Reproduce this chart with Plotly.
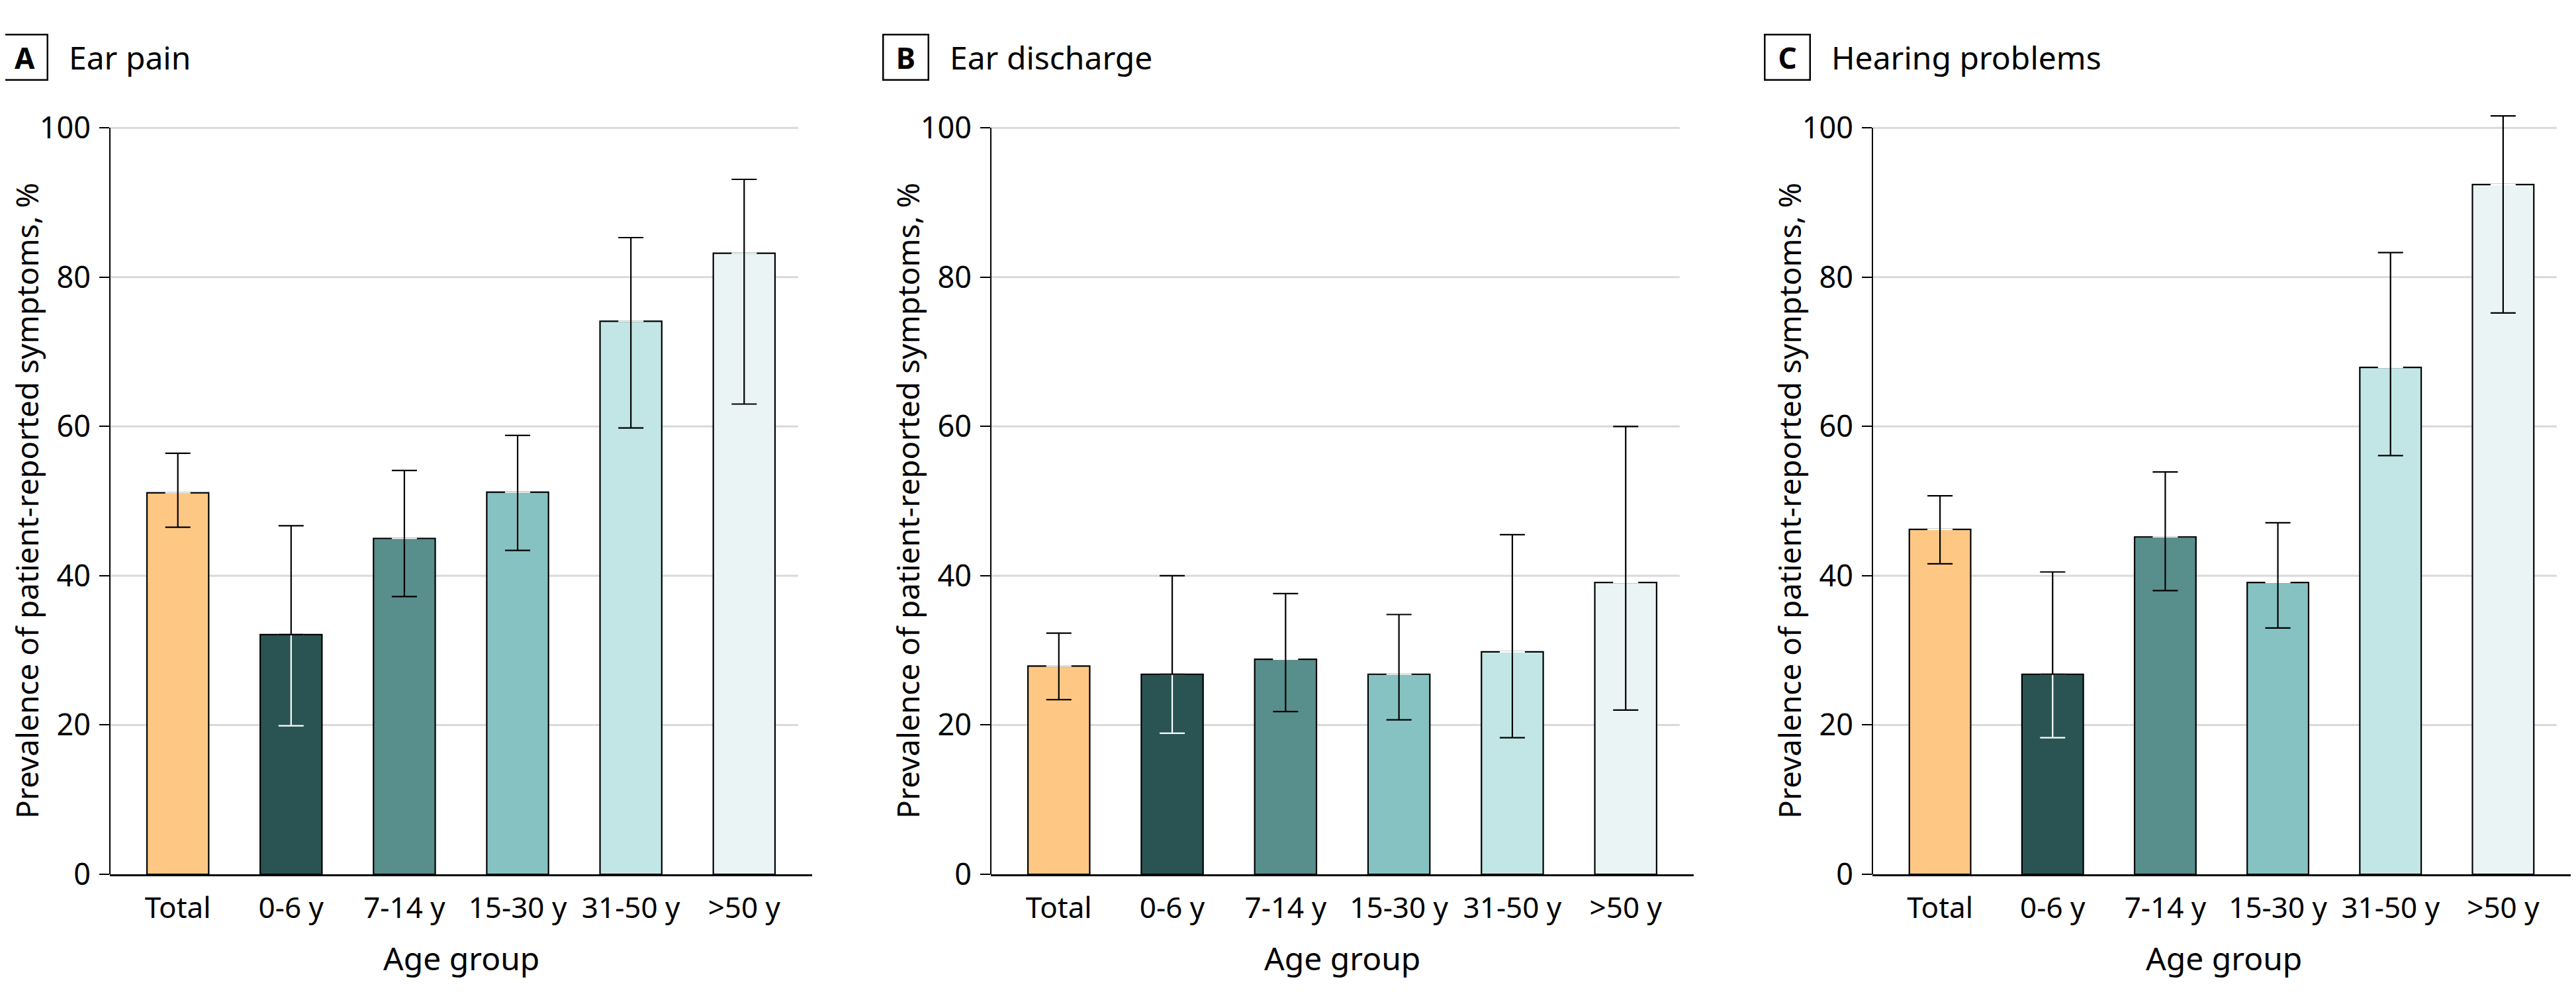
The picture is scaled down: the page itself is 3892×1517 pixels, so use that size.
import plotly.graph_objects as go

# Data
age_groups = ["Total", "0-6 y", "7-14 y", "15-30 y", "31-50 y", ">50 y"]
bar_colors = ["#FEC884", "#2A5454", "#588E8C", "#86C2C1", "#C1E6E5", "#EAF4F4"]

panel_letters = ["A", "B", "C"]
panel_titles = ["Ear pain", "Ear discharge", "Hearing problems"]

ear_pain = [51.1, 32.1, 45.0, 51.2, 74.1, 83.2]
ear_pain_hi = [56.4, 46.7, 54.1, 58.8, 85.3, 93.1]
ear_pain_lo = [46.5, 19.9, 37.2, 43.4, 59.8, 63.0]

ear_discharge = [27.9, 26.8, 28.8, 26.8, 29.8, 39.1]
ear_discharge_hi = [32.3, 40.0, 37.6, 34.8, 45.5, 60.0]
ear_discharge_lo = [23.4, 18.9, 21.8, 20.7, 18.3, 22.0]

hearing = [46.2, 26.8, 45.2, 39.1, 67.9, 92.4]
hearing_hi = [50.7, 40.5, 53.9, 47.1, 83.3, 101.6]
hearing_lo = [41.6, 18.3, 38.0, 33.0, 56.1, 75.2]

y_ticks = [0, 20, 40, 60, 80, 100]

values = [ear_pain, ear_discharge, hearing]
highs = [ear_pain_hi, ear_discharge_hi, hearing_hi]
lows = [ear_pain_lo, ear_discharge_lo, hearing_lo]

# target page is 3892x1517; the html body adds an 8px margin all round
W, H = 3892, 1517
OFF = 8
FW, FH = W - 2 * OFF, H - 2 * OFF
PLOT_TOP, PLOT_BOTTOM = 165, 1321   # page px rows of the plot area
TOP = PLOT_TOP - OFF
BOTTOM = FH - (PLOT_BOTTOM - OFF)
PLOT_H = PLOT_BOTTOM - PLOT_TOP
# plot area left / right edges (page px) for each panel
panel_px = [(166, 1227), (1497, 2559), (2829, 3891)]

FONT = "Noto Sans, Open Sans, sans-serif"


def px(xpx):
    # page column -> paper x
    return (xpx - OFF) / FW


def py(ypx):
    # page row -> paper y
    return (PLOT_BOTTOM - ypx) / PLOT_H


fig = go.Figure()
annotations = []
shapes = []

for i in range(3):
    xa = "x" if i == 0 else f"x{i + 1}"
    ya = "y" if i == 0 else f"y{i + 1}"
    vals = values[i]
    up = [h - v for h, v in zip(highs[i], vals)]
    dn = [v - l for v, l in zip(vals, lows[i])]

    fig.add_trace(go.Bar(
        x=age_groups, y=vals, xaxis=xa, yaxis=ya,
        marker=dict(color=bar_colors, line=dict(color="black", width=2.2)),
        width=0.545, showlegend=False, hoverinfo="x+y",
    ))

    # lower whisker of the dark bar is drawn in white
    white_dn = [d if c == "#2A5454" else 0 for d, c in zip(dn, bar_colors)]
    black_dn = [0 if c == "#2A5454" else d for d, c in zip(dn, bar_colors)]
    fig.add_trace(go.Scatter(
        x=age_groups, y=vals, xaxis=xa, yaxis=ya, mode="markers",
        marker=dict(size=1, opacity=0),
        error_y=dict(type="data", symmetric=False, array=[0] * 6, arrayminus=white_dn,
                     color="white", thickness=2.2, width=19),
        showlegend=False, hoverinfo="skip",
    ))
    fig.add_trace(go.Scatter(
        x=age_groups, y=vals, xaxis=xa, yaxis=ya, mode="markers",
        marker=dict(size=1, opacity=0),
        error_y=dict(type="data", symmetric=False, array=up, arrayminus=black_dn,
                     color="black", thickness=2.2, width=19),
        showlegend=False, hoverinfo="skip",
    ))

    x0, x1 = panel_px[i]
    dom = [px(x0), min(px(x1), 1.0)]
    fig.update_layout({
        f"xaxis{'' if i == 0 else i + 1}": dict(
            domain=dom, range=[-0.6, 5.6], anchor=ya,
            showline=True, linecolor="black", linewidth=2.5,
            showgrid=False, ticks="", ticklabelstandoff=10,
            tickfont=dict(family=FONT, size=44, color="black"),
        ),
        f"yaxis{'' if i == 0 else i + 1}": dict(
            domain=[0, 1], range=[0, 102.5], anchor=xa,
            tickvals=y_ticks,
            ticks="outside", ticklen=15, tickwidth=2, tickcolor="black",
            ticklabelstandoff=4,
            showline=False, zeroline=False, showgrid=False,
            tickfont=dict(family=FONT, size=45, color="black"),
        ),
    })

    # gridlines stop a little short of the x axis end
    for v in y_ticks[1:]:
        shapes.append(dict(type="line", xref=f"{xa} domain", yref=ya, x0=0, x1=0.98,
                           y0=v, y1=v, layer="below",
                           line=dict(color="#D9D9D9", width=3)))
    # y axis line from 0 to 100
    shapes.append(dict(type="line", xref=f"{xa} domain", yref=ya, x0=0, x1=0, y0=0, y1=100,
                       line=dict(color="black", width=2)))

    # panel letter box + title
    annotations.append(dict(
        text=f"<b>{panel_letters[i]}</b>", xref="paper", yref="paper",
        x=px(x0 - 129), y=py(87), xanchor="center", yanchor="middle",
        showarrow=False, font=dict(family=FONT, size=44, color="black"),
        bordercolor="black", borderwidth=2.5, width=66, height=66, borderpad=0,
    ))
    annotations.append(dict(
        text=panel_titles[i], xref="paper", yref="paper",
        x=px(x0 - 64), y=py(87), xanchor="left", yanchor="middle",
        showarrow=False, font=dict(family=FONT, size=48, color="black"),
    ))
    # axis titles
    annotations.append(dict(
        text="Prevalence of patient-reported symptoms, %", xref="paper", yref="paper",
        x=px(x0 - 126), y=py(757), xanchor="center", yanchor="middle",
        textangle=-90, showarrow=False,
        font=dict(family=FONT, size=46, color="black"),
    ))
    annotations.append(dict(
        text="Age group", xref="paper", yref="paper",
        x=px((x0 + x1) / 2), y=py(1447), xanchor="center", yanchor="middle",
        showarrow=False, font=dict(family=FONT, size=48, color="black"),
    ))

fig.update_layout(
    width=FW, height=FH,
    margin=dict(l=0, r=0, t=TOP, b=BOTTOM),
    plot_bgcolor="white", paper_bgcolor="white",
    annotations=annotations, shapes=shapes,
    showlegend=False,
)

fig.write_html("out.html")
